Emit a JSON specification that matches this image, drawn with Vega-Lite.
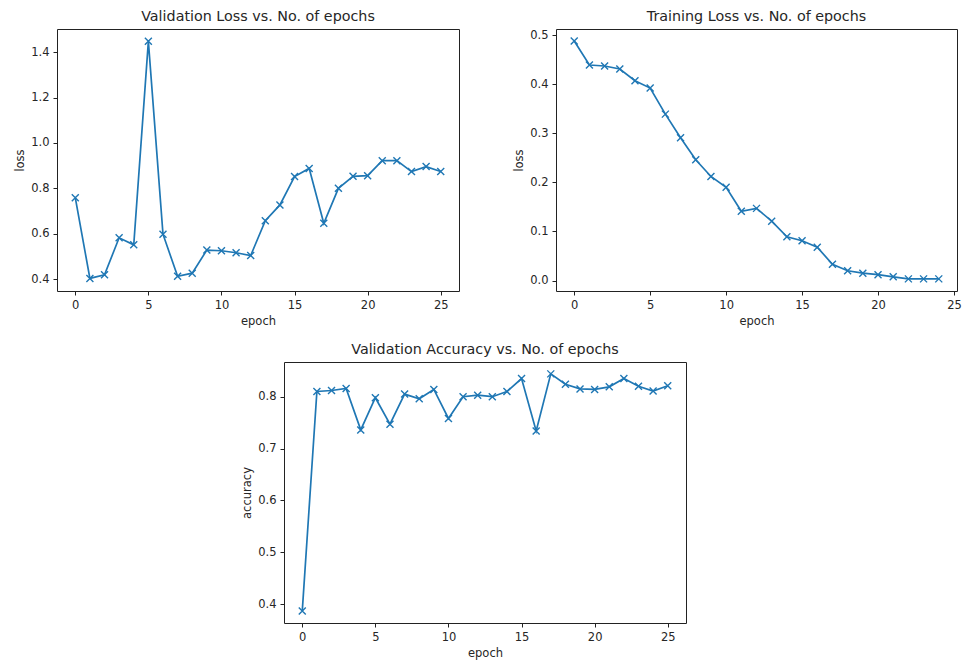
{
  "$schema": "https://vega.github.io/schema/vega-lite/v6.json",
  "padding": {"left": 14, "top": 9, "right": 0, "bottom": 0},
  "background": "white",
  "datasets": {
    "val_loss": [
      {"epoch": 0, "loss": 0.759}, {"epoch": 1, "loss": 0.403}, {"epoch": 2, "loss": 0.419},
      {"epoch": 3, "loss": 0.582}, {"epoch": 4, "loss": 0.551}, {"epoch": 5, "loss": 1.448},
      {"epoch": 6, "loss": 0.598}, {"epoch": 7, "loss": 0.412}, {"epoch": 8, "loss": 0.426},
      {"epoch": 9, "loss": 0.528}, {"epoch": 10, "loss": 0.525}, {"epoch": 11, "loss": 0.516},
      {"epoch": 12, "loss": 0.504}, {"epoch": 13, "loss": 0.657}, {"epoch": 14, "loss": 0.727},
      {"epoch": 15, "loss": 0.852}, {"epoch": 16, "loss": 0.888}, {"epoch": 17, "loss": 0.646},
      {"epoch": 18, "loss": 0.800}, {"epoch": 19, "loss": 0.853}, {"epoch": 20, "loss": 0.856},
      {"epoch": 21, "loss": 0.922}, {"epoch": 22, "loss": 0.922}, {"epoch": 23, "loss": 0.874},
      {"epoch": 24, "loss": 0.896}, {"epoch": 25, "loss": 0.874}
    ],
    "train_loss": [
      {"epoch": 0, "loss": 0.488}, {"epoch": 1, "loss": 0.439}, {"epoch": 2, "loss": 0.437},
      {"epoch": 3, "loss": 0.431}, {"epoch": 4, "loss": 0.407}, {"epoch": 5, "loss": 0.392},
      {"epoch": 6, "loss": 0.339}, {"epoch": 7, "loss": 0.291}, {"epoch": 8, "loss": 0.246},
      {"epoch": 9, "loss": 0.212}, {"epoch": 10, "loss": 0.190}, {"epoch": 11, "loss": 0.141},
      {"epoch": 12, "loss": 0.147}, {"epoch": 13, "loss": 0.121}, {"epoch": 14, "loss": 0.089},
      {"epoch": 15, "loss": 0.081}, {"epoch": 16, "loss": 0.068}, {"epoch": 17, "loss": 0.033},
      {"epoch": 18, "loss": 0.020}, {"epoch": 19, "loss": 0.015}, {"epoch": 20, "loss": 0.012},
      {"epoch": 21, "loss": 0.0075}, {"epoch": 22, "loss": 0.0034}, {"epoch": 23, "loss": 0.0034},
      {"epoch": 24, "loss": 0.0034}
    ],
    "val_acc": [
      {"epoch": 0, "accuracy": 0.387}, {"epoch": 1, "accuracy": 0.810}, {"epoch": 2, "accuracy": 0.812},
      {"epoch": 3, "accuracy": 0.816}, {"epoch": 4, "accuracy": 0.736}, {"epoch": 5, "accuracy": 0.798},
      {"epoch": 6, "accuracy": 0.747}, {"epoch": 7, "accuracy": 0.805}, {"epoch": 8, "accuracy": 0.796},
      {"epoch": 9, "accuracy": 0.814}, {"epoch": 10, "accuracy": 0.758}, {"epoch": 11, "accuracy": 0.800},
      {"epoch": 12, "accuracy": 0.803}, {"epoch": 13, "accuracy": 0.800}, {"epoch": 14, "accuracy": 0.810},
      {"epoch": 15, "accuracy": 0.835}, {"epoch": 16, "accuracy": 0.734}, {"epoch": 17, "accuracy": 0.844},
      {"epoch": 18, "accuracy": 0.824}, {"epoch": 19, "accuracy": 0.815}, {"epoch": 20, "accuracy": 0.814},
      {"epoch": 21, "accuracy": 0.819}, {"epoch": 22, "accuracy": 0.835}, {"epoch": 23, "accuracy": 0.820},
      {"epoch": 24, "accuracy": 0.811}, {"epoch": 25, "accuracy": 0.821}
    ]
  },
  "spacing": 14,
  "vconcat": [
    {
      "bounds": "flush",
      "spacing": 97,
      "hconcat": [
        {
          "title": "Validation Loss vs. No. of epochs",
          "width": 402, "height": 262,
          "data": {"name": "val_loss"},
          "mark": {"type": "line", "color": "#1f77b4", "strokeWidth": 1.7,
                   "point": {"shape": "M-1,-1L1,1M1,-1L-1,1", "filled": false, "size": 49, "strokeWidth": 1.4, "color": "#1f77b4"}},
          "encoding": {
            "x": {"field": "epoch", "type": "quantitative", "title": "epoch",
                  "scale": {"domain": [-1.25, 26.25], "nice": false, "zero": false},
                  "axis": {"values": [0, 5, 10, 15, 20, 25]}},
            "y": {"field": "loss", "type": "quantitative", "title": "loss",
                  "scale": {"domain": [0.3475, 1.5025], "nice": false, "zero": false},
                  "axis": {"values": [0.4, 0.6, 0.8, 1.0, 1.2, 1.4], "format": ".1f"}}
          }
        },
        {
          "title": "Training Loss vs. No. of epochs",
          "width": 401, "height": 262,
          "data": {"name": "train_loss"},
          "mark": {"type": "line", "color": "#1f77b4", "strokeWidth": 1.7,
                   "point": {"shape": "M-1,-1L1,1M1,-1L-1,1", "filled": false, "size": 49, "strokeWidth": 1.4, "color": "#1f77b4"}},
          "encoding": {
            "x": {"field": "epoch", "type": "quantitative", "title": "epoch",
                  "scale": {"domain": [-1.2, 25.2], "nice": false, "zero": false},
                  "axis": {"values": [0, 5, 10, 15, 20, 25]}},
            "y": {"field": "loss", "type": "quantitative", "title": "loss",
                  "scale": {"domain": [-0.0213, 0.5124], "nice": false, "zero": false},
                  "axis": {"values": [0.0, 0.1, 0.2, 0.3, 0.4, 0.5], "format": ".1f"}}
          }
        }
      ]
    },
    {
      "bounds": "flush",
      "spacing": 0,
      "hconcat": [
        {
          "width": 227, "height": 1,
          "data": {"values": []},
          "mark": {"type": "point", "opacity": 0},
          "view": {"stroke": null}
        },
        {
          "title": "Validation Accuracy vs. No. of epochs",
          "width": 402, "height": 261,
          "data": {"name": "val_acc"},
          "mark": {"type": "line", "color": "#1f77b4", "strokeWidth": 1.7,
                   "point": {"shape": "M-1,-1L1,1M1,-1L-1,1", "filled": false, "size": 49, "strokeWidth": 1.4, "color": "#1f77b4"}},
          "encoding": {
            "x": {"field": "epoch", "type": "quantitative", "title": "epoch",
                  "scale": {"domain": [-1.25, 26.25], "nice": false, "zero": false},
                  "axis": {"values": [0, 5, 10, 15, 20, 25]}},
            "y": {"field": "accuracy", "type": "quantitative", "title": "accuracy",
                  "scale": {"domain": [0.3637, 0.8669], "nice": false, "zero": false},
                  "axis": {"values": [0.4, 0.5, 0.6, 0.7, 0.8], "format": ".1f"}}
          }
        }
      ]
    }
  ],
  "config": {
    "font": "DejaVu Sans",
    "view": {"stroke": "#222222", "strokeWidth": 1},
    "axis": {
      "grid": false, "domain": false,
      "tickColor": "#222222", "tickSize": 4, "tickWidth": 1,
      "labelPadding": 4, "labelFontSize": 11.5, "labelColor": "#262626", "labelFont": "DejaVu Sans",
      "titleFontSize": 11.5, "titleFontWeight": "normal", "titleColor": "#262626", "titleFont": "DejaVu Sans",
      "titlePadding": 5
    },
    "title": {"fontSize": 14.3, "fontWeight": "normal", "color": "#262626", "offset": 5, "font": "DejaVu Sans", "anchor": "middle"}
  }
}
